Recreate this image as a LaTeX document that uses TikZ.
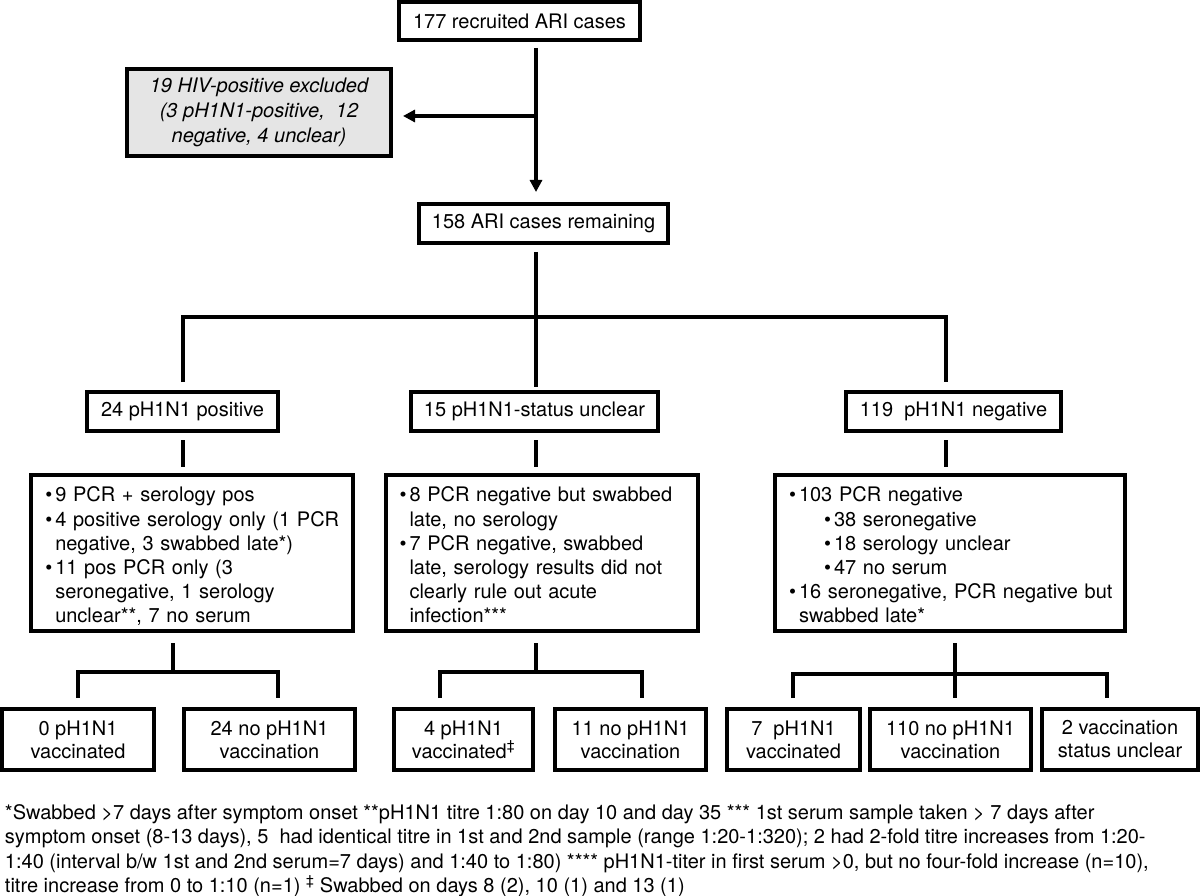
\documentclass[tikz,border=0pt]{standalone}
\usepackage{fontspec}
\setmainfont{TeX Gyre Heros}
\usetikzlibrary{arrows.meta,calc}
\newcommand{\bl}{\makebox[10pt][l]{•}}
\newcommand{\ind}{\hspace*{10pt}}
\newcommand{\sbl}{\hspace*{35pt}\makebox[10pt][l]{•}}
\newcommand{\toprow}{\rule{0pt}{26pt}}
\begin{document}
\begin{tikzpicture}[x=1pt,y=-1pt,
  every node/.style={inner sep=0pt, outer sep=0pt},
  box/.style={draw=black, line width=4pt, fill=white, align=center, font=\fontsize{20}{23}\selectfont},
  listbox/.style={draw=black, line width=4pt, fill=white, inner xsep=14pt, align=left, minimum height=156pt, font=\fontsize{20}{24.2}\selectfont},
  conn/.style={draw=black, line width=4pt},
  arrowhd/.style={-{Triangle[length=12pt,width=12pt]}}
]
\useasboundingbox (0,0) rectangle (1200,896);
\fill[white] (0,0) rectangle (1200,896);

% top level
\node[box, minimum width=241pt, minimum height=38pt] (n177) at (519.5,21) {177 recruited ARI cases};
\node[box, fill=gray!20, minimum width=264pt, minimum height=87pt, font=\fontsize{20}{25}\selectfont\itshape] (hiv) at (259,112.5)
  {19 HIV-positive excluded\\(3 pH1N1-positive,\ \ 12\\negative, 4 unclear)};
\node[box, minimum width=249pt, minimum height=39pt] (n158) at (543.5,223.5) {158 ARI cases remaining};

% second level
\node[box, minimum width=191pt, minimum height=39pt] (pos) at (182.5,411.5) {24 pH1N1 positive};
\node[box, minimum width=247pt, minimum height=39pt] (unc) at (534.5,411.5) {15 pH1N1-status unclear};
\node[box, minimum width=215pt, minimum height=39pt] (neg) at (953.5,411.5) {119\ \ pH1N1 negative};

% detail boxes
\node[listbox, text width=293.5pt] (dl) at (192,553) {\begin{tabular}{@{}l@{}}
\toprow\bl 9 PCR + serology pos\\
\bl 4 positive serology only (1 PCR\\
\ind negative, 3 swabbed late*)\\
\bl 11 pos PCR only (3\\
\ind seronegative, 1 serology\\
\ind unclear**, 7 no serum
\end{tabular}};
\node[listbox, text width=284.5pt] (dm) at (541.75,553) {\begin{tabular}{@{}l@{}}
\toprow\bl 8 PCR negative but swabbed\\
\ind late, no serology\\
\bl 7 PCR negative, swabbed\\
\ind late, serology results did not\\
\ind clearly rule out acute\\
\ind infection***
\end{tabular}};
\node[listbox, text width=322pt] (dr) at (950,553) {\begin{tabular}{@{}l@{}}
\toprow\bl 103 PCR negative\\
\sbl 38 seronegative\\
\sbl 18 serology unclear\\
\sbl 47 no serum\\
\bl 16 seronegative, PCR negative but\\
\ind swabbed late*
\end{tabular}};

% bottom boxes
\node[box, minimum width=152pt, minimum height=61pt] (b1) at (78,739.5) {0 pH1N1\\vaccinated};
\node[box, minimum width=171pt, minimum height=61pt] (b2) at (269.5,739.5) {24 no pH1N1\\vaccination};
\node[box, minimum width=139pt, minimum height=61pt] (b3) at (463.5,739.5) {4 pH1N1\\vaccinated\textsuperscript{‡}};
\node[box, minimum width=151pt, minimum height=61pt] (b4) at (630.5,739.5) {11 no pH1N1\\vaccination};
\node[box, minimum width=133pt, minimum height=61pt] (b5) at (793.5,739.5) {7\ \ pH1N1\\vaccinated};
\node[box, minimum width=161pt, minimum height=61pt] (b6) at (950.5,739.5) {110 no pH1N1\\vaccination};
\node[box, minimum width=156pt, minimum height=61pt] (b7) at (1120,739.5) {2 vaccination\\status unclear};

% footnote
\node[anchor=base west, font=\fontsize{20}{24.5}\selectfont] (fn) at (5,819) {\begin{tabular}[t]{@{}l@{}}
*Swabbed >7 days after symptom onset **pH1N1 titre 1:80 on day 10 and day 35 *** 1st serum sample taken > 7 days after\\
symptom onset (8-13 days), 5\ \ had identical titre in 1st and 2nd sample (range 1:20-1:320); 2 had 2-fold titre increases from 1:20-\\
1:40 (interval b/w 1st and 2nd serum=7 days) and 1:40 to 1:80) **** pH1N1-titer in first serum >0, but no four-fold increase (n=10),\\
titre increase from 0 to 1:10 (n=1) \textsuperscript{‡} Swabbed on days 8 (2), 10 (1) and 13 (1)
\end{tabular}};

% coordinates for connectors
\coordinate (a0) at (536,0);
\coordinate (ah) at (536,116);
\coordinate (jM) at (536,317);
\coordinate (jL) at (183,317);
\coordinate (jR) at (946,317);
\coordinate (kL) at (173,672);
\coordinate (kL1) at (78,672);
\coordinate (kL2) at (278,672);
\coordinate (kM) at (536,672);
\coordinate (kM1) at (440,672);
\coordinate (kM2) at (642,672);
\coordinate (kR) at (955,674);
\coordinate (kR1) at (793,674);
\coordinate (kR2) at (1107,674);

% connectors
\draw[conn, arrowhd, shorten <=8pt, shorten >=12pt] (n177.south -| a0) -- (n158.north -| a0);
\draw[conn, arrowhd, shorten >=12pt] (ah) -- (ah -| hiv.east);

\draw[conn, shorten <=9pt] (n158.south -| jM) -- (jM);
\draw[conn, shorten <=10pt, shorten >=10pt] (pos.north -| jL) -- (jL) -- (jR) -- (neg.north -| jR);
\draw[conn, shorten >=5pt] (jM) -- (unc.north -| jM);

\draw[conn, shorten <=9pt, shorten >=8pt] (pos.south -| jL) -- (dl.north -| jL);
\draw[conn, shorten <=9pt, shorten >=8pt] (unc.south -| jM) -- (dm.north -| jM);
\draw[conn, shorten <=9pt, shorten >=8pt] (neg.south -| jR) -- (dr.north -| jR);

\draw[conn, shorten <=12pt] (dl.south -| kL) -- (kL);
\draw[conn, shorten <=11pt, shorten >=11pt] (b1.north -| kL1) -- (kL1) -- (kL2) -- (b2.north -| kL2);
\draw[conn, shorten <=12pt] (dm.south -| kM) -- (kM);
\draw[conn, shorten <=11pt, shorten >=11pt] (b3.north -| kM1) -- (kM1) -- (kM2) -- (b4.north -| kM2);
\draw[conn, shorten <=12pt, shorten >=11pt] (dr.south -| kR) -- (b6.north -| kR);
\draw[conn, shorten <=11pt, shorten >=11pt] (b5.north -| kR1) -- (kR1) -- (kR2) -- (b7.north -| kR2);
\end{tikzpicture}
\end{document}
